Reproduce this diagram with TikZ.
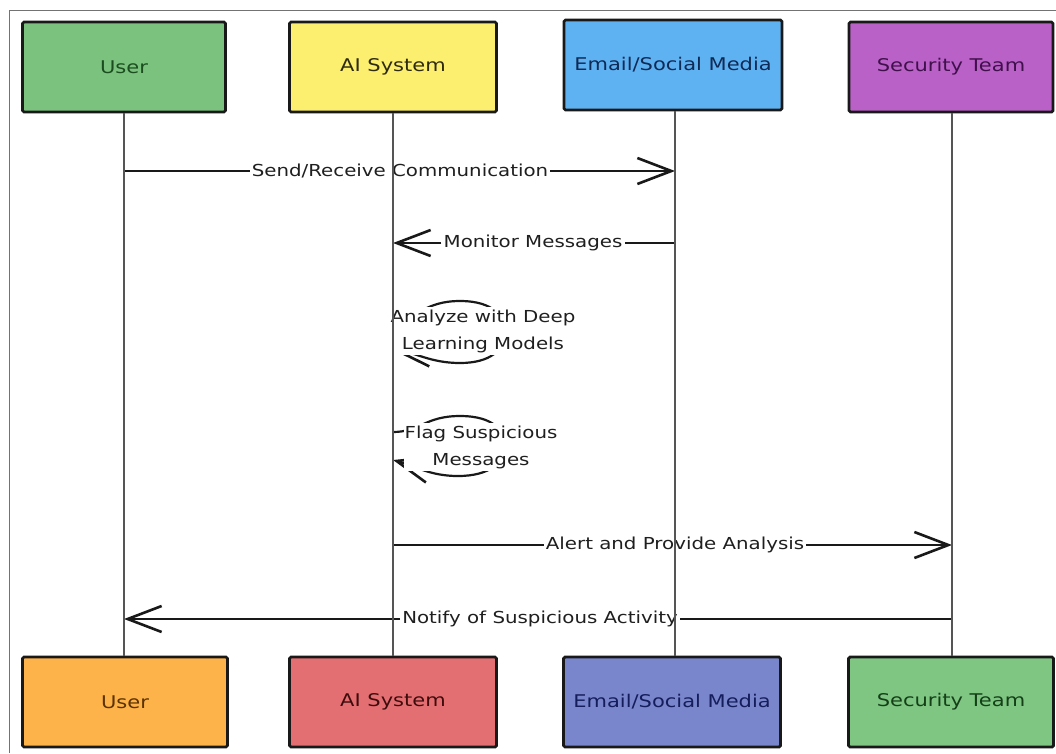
\documentclass[tikz,border=0pt]{standalone}
\usepackage{fontspec}
\newfontfamily\hand[FakeStretch=1.2]{DejaVu Sans}
\usetikzlibrary{arrows.meta}
\definecolor{cUserT}{HTML}{7CC27F}
\definecolor{cAIT}{HTML}{FCEE6E}
\definecolor{cMailT}{HTML}{5FB2F2}
\definecolor{cSecT}{HTML}{B961C6}
\definecolor{cUserB}{HTML}{FDB24A}
\definecolor{cAIB}{HTML}{E46F72}
\definecolor{cMailB}{HTML}{7A86CB}
\definecolor{cSecB}{HTML}{7FC683}
\definecolor{tUserT}{HTML}{1B4D1E}
\definecolor{tAIT}{HTML}{2E2A10}
\definecolor{tMailT}{HTML}{0E2A55}
\definecolor{tSecT}{HTML}{40104D}
\definecolor{tUserB}{HTML}{5A3300}
\definecolor{tAIB}{HTML}{3F0C0C}
\definecolor{tMailB}{HTML}{151E5C}
\definecolor{tSecB}{HTML}{143F17}
\definecolor{life}{HTML}{555555}
\tikzset{
  x=1pt, y=-1pt,
  actor/.style={draw=black!90, line width=2.8pt, rounded corners=1.5pt,
    minimum height=90pt, inner sep=0pt, font=\hand\fontsize{17.5}{20}\selectfont},
  lifeline/.style={draw=life, line width=1.4pt},
  msg/.style={draw=black!90, line width=2.6pt},
  arr/.style={msg, -{Straight Barb[length=34pt,width=26pt,line width=2.6pt]}},
  lbl/.style={font=\hand\fontsize{16.5}{27}\selectfont, text=black!88, inner sep=2pt, align=center},
  slbl/.style={lbl, fill=white, inner xsep=1pt, inner ysep=3pt},
}
\begin{document}
\begin{tikzpicture}
\useasboundingbox (0,0) rectangle (1056,753);
\fill[white] (0,0) rectangle (1056,753);
% frame
\draw[draw=black!55, line width=1pt] (9,753) -- (9,10) -- (1056,10);

% actors top
\node[actor, fill=cUserT, text=tUserT, minimum width=203pt] (userT) at (124,67) {User};
\node[actor, fill=cAIT, text=tAIT, minimum width=207pt] (aiT) at (393,67) {AI System};
\node[actor, fill=cMailT, text=tMailT, minimum width=218pt] (mailT) at (673,65) {Email/Social Media};
\node[actor, fill=cSecT, text=tSecT, minimum width=204pt] (secT) at (951,67) {Security Team};
% actors bottom
\node[actor, fill=cUserB, text=tUserB, minimum width=205pt] (userB) at (125,702) {User};
\node[actor, fill=cAIB, text=tAIB, minimum width=207pt] (aiB) at (393,702) {AI System};
\node[actor, fill=cMailB, text=tMailB, minimum width=217pt] (mailB) at (672,702) {Email/Social Media};
\node[actor, fill=cSecB, text=tSecB, minimum width=205pt] (secB) at (951,702) {Security Team};

% lifeline points
\coordinate (u1) at (124,171);
\coordinate (e1) at (675,171);
\coordinate (e2) at (675,243);
\coordinate (a2) at (393,243);
\coordinate (a3s) at (393,318);
\coordinate (a3e) at (393,350);
\coordinate (a4s) at (393,432);
\coordinate (a4e) at (393,460);
\coordinate (a5) at (393,545);
\coordinate (s5) at (952,545);
\coordinate (s6) at (952,619);
\coordinate (u6) at (124,619);

% 1 Send/Receive Communication
\node[lbl] (l1) at (400,171) {Send/Receive Communication};
\draw[msg] (u1) -- (l1.west);
\draw[arr] (l1.east) -- (e1);
% 2 Monitor Messages
\node[lbl] (l2) at (533,243) {Monitor Messages};
\draw[msg] (e2) -- (l2.east);
\draw[arr] (l2.west) -- (a2);
% 3 self: Analyze
\draw[arr, line width=2.2pt] (a3s) .. controls (420,318) and (425,301) .. (460,301)
   .. controls (495,301) and (505,318) .. (505,332)
   .. controls (505,350) and (490,363) .. (460,363)
   .. controls (430,363) and (415,352) .. (a3e);
\node[slbl] (l3) at (483,331) {Analyze with Deep\\Learning Models};
% 4 self: Flag
\draw[arr, line width=2.2pt] (a4s) .. controls (420,432) and (425,416) .. (460,416)
   .. controls (495,416) and (505,432) .. (505,446)
   .. controls (505,462) and (490,476) .. (458,476)
   .. controls (430,476) and (415,466) .. (a4e);
\node[slbl] (l4) at (481,447) {Flag Suspicious\\Messages};
% 5 Alert
\node[lbl] (l5) at (675,545) {Alert and Provide Analysis};
\draw[msg] (a5) -- (l5.west);
\draw[arr] (l5.east) -- (s5);
% 6 Notify
\node[lbl] (l6) at (540,619) {Notify of Suspicious Activity};
\draw[msg] (s6) -- (l6.east);
\draw[arr] (l6.west) -- (u6);

% lifelines (on top)
\draw[lifeline] (userT.south -| u1) -- (userB.north -| u1);
\draw[lifeline] (aiT.south -| a2) -- (aiB.north -| a2);
\draw[lifeline] (mailT.south -| e1) -- (mailB.north -| e1);
\draw[lifeline] (secT.south -| s5) -- (secB.north -| s5);
\end{tikzpicture}
\end{document}
